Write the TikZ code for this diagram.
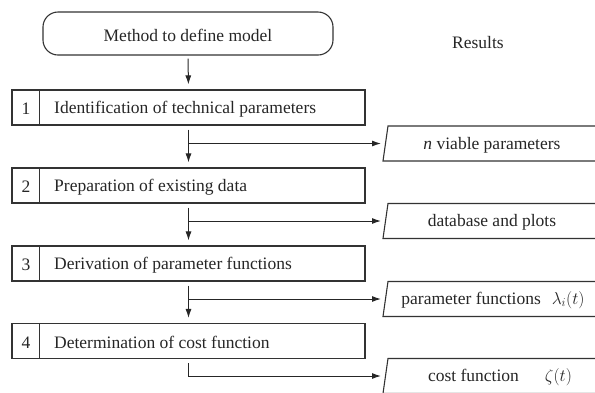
\documentclass[tikz,border=0pt]{standalone}
\usepackage{fontspec}
\setmainfont{Liberation Serif}
\usetikzlibrary{arrows.meta}
\begin{document}
\begin{tikzpicture}[x=1pt,y=-1pt,
  every node/.style={font=\fontsize{17.5}{20}\selectfont, text=black!85, inner sep=0pt},
  term/.style={draw=black!80, rounded corners=15pt, minimum width=290pt, minimum height=43pt, line width=1.1pt},
  stepbox/.style={draw=black!80, minimum width=353pt, minimum height=35pt, line width=1.1pt},
  arr/.style={draw=black!85, -{Latex[length=9pt,width=6pt]}, line width=1pt},
  divider/.style={draw=black!80, line width=1.1pt},
  para/.style={draw=black!80, line width=1.1pt}
]
\useasboundingbox (0,0) rectangle (595,392);
\clip (0,0) rectangle (595,392);

% start
\node[term] (start) at (188,33.5) {};
\node (startt) at (188,35.5) {Method to define model};
\node (res) at (478,43) {Results};

% steps
\foreach \i/\y/\t in {1/107.5/Identification of technical parameters,
                       2/185.5/Preparation of existing data,
                       3/263.5/Derivation of parameter functions,
                       4/341/Determination of cost function}{
  \node[stepbox] (s\i) at (188.5,\y) {};
  \node (n\i) at (26,\y+1.5) {\i};
  \node[anchor=west] (t\i) at (54,\y+1.5) {\t};
  \draw[divider] ([xshift=28pt]s\i.north west) -- ([xshift=28pt]s\i.south west);
}

% result parallelograms
\foreach \i/\y in {1/143.5,2/221,3/299,4/376}{
  \draw[para] (388,\y-17.5) -- (610,\y-17.5) -- (605,\y+17.5) -- (383,\y+17.5) -- cycle;
  \coordinate (p\i) at (385.5,\y);
}
\node (r1) at (492,145) {\textit{n} viable parameters};
\node (r2) at (492,222.5) {database and plots};
\node (r3) at (493,300) {parameter functions\hspace{11pt}$\lambda_i(t)$};
\node (r4) at (500,377.5) {cost function\hspace{26pt}$\zeta(t)$};

% connectors
\draw[arr, shorten <=3pt, shorten >=5pt] (start.south) -- (s1.north);
\draw[arr, shorten <=4pt, shorten >=5pt] (s1.south) -- (s2.north);
\draw[arr, shorten <=4pt, shorten >=5pt] (s2.south) -- (s3.north);
\draw[arr, shorten <=4pt, shorten >=5pt] (s3.south) -- (s4.north);
\draw[arr, shorten >=4.5pt] (s1.south |- p1) -- (p1);
\draw[arr, shorten >=4.5pt] (s2.south |- p2) -- (p2);
\draw[arr, shorten >=4.5pt] (s3.south |- p3) -- (p3);
\draw[arr, shorten <=4pt, shorten >=4.5pt] (s4.south) |- (p4);
\end{tikzpicture}
\end{document}
